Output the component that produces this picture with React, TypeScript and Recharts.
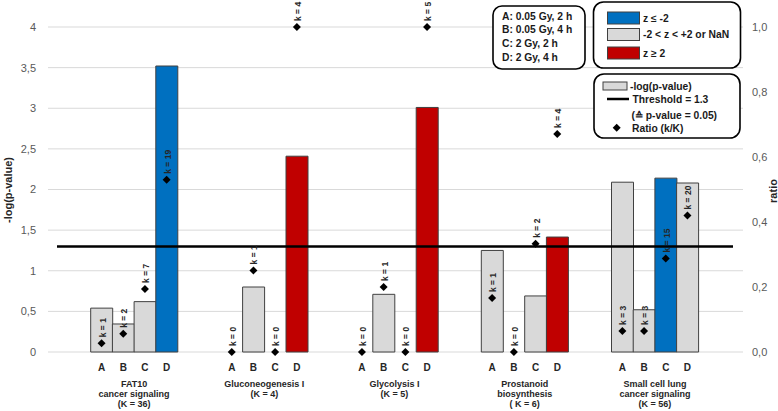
import React from "react"
import {
  ComposedChart,
  Bar,
  Line,
  Cell,
  XAxis,
  YAxis,
  CartesianGrid,
  ReferenceLine,
  LabelList,
} from "recharts"

// pathways (x groups), conditions A-D inside each group
const groupLabels = [
  ["FAT10", "cancer signaling", "(K = 36)"],
  ["Gluconeogenesis  I", "(K = 4)"],
  ["Glycolysis  I", "(K = 5)"],
  ["Prostanoid", "biosynthesis", "( K = 6)"],
  ["Small cell lung", "cancer signaling", "(K = 56)"],
]
const letters = ["A", "B", "C", "D"]

// -log(p-value), left axis
const logP = [
  [0.54, 0.345, 0.62, 3.52],
  [0, 0.8, 0, 2.41],
  [0, 0.71, 0, 3.01],
  [1.25, 0, 0.69, 1.415],
  [2.09, 0.52, 2.14, 2.08],
]
// z-score class: low = z <= -2, mid = -2 < z < 2 or NaN, high = z >= 2
const zClass = [
  ["mid", "mid", "mid", "low"],
  ["mid", "mid", "mid", "high"],
  ["mid", "mid", "mid", "high"],
  ["mid", "mid", "mid", "high"],
  ["mid", "mid", "low", "mid"],
]
// k molecules per condition and ratio k/K, right axis
const kVals = [
  [1, 2, 7, 19],
  [0, 1, 0, 4],
  [0, 1, 0, 5],
  [1, 0, 2, 4],
  [3, 3, 15, 20],
]
const ratios = [
  [0.027, 0.056, 0.194, 0.53],
  [0, 0.251, 0, 1.0],
  [0, 0.2, 0, 1.0],
  [0.166, 0, 0.333, 0.671],
  [0.065, 0.065, 0.288, 0.42],
]

const leftTicks = [0, 0.5, 1, 1.5, 2, 2.5, 3, 3.5, 4]
const rightTicks = [0, 0.2, 0.4, 0.6, 0.8, 1.0]
const THRESHOLD = 1.3

const zColors: Record<string, string> = { low: "#0070C0", mid: "#D9D9D9", high: "#C00000" }

// flat rows: gap, A, B, C, D, gap per pathway
const rows: any[] = []
groupLabels.forEach((_, g) => {
  rows.push({ slot: `${g}-pre`, letter: "", g })
  letters.forEach((l, i) => {
    rows.push({
      slot: `${g}-${l}`,
      letter: l,
      g,
      logp: logP[g][i],
      z: zClass[g][i],
      k: kVals[g][i],
      ratio: ratios[g][i],
    })
  })
  rows.push({ slot: `${g}-post`, letter: "", g })
})

const W = 778
const H = 411
const LEFT_W = 48
const RIGHT_W = 35
const PAD_L = 21
const PAD_R = 23
const BAND = (W - LEFT_W - RIGHT_W - PAD_L - PAD_R) / rows.length
const FONT = "'Liberation Sans', Arial, sans-serif"

const XTick = (props: any) => {
  const { x, y, payload, index } = props
  const row = rows[index] || rows.find((r) => r.slot === payload.value)
  if (!row || !row.letter) return <g />
  return (
    <g>
      <text x={x} y={y + 11} textAnchor="middle" fontSize={10} fontWeight="bold" fill="#262626" fontFamily={FONT}>
        {row.letter}
      </text>
      {row.letter === "B" &&
        groupLabels[row.g].map((line, j) => (
          <text
            key={j}
            x={x + BAND / 2}
            y={y + 27 + j * 10}
            textAnchor="middle"
            fontSize={9}
            fontWeight="bold"
            fill="#262626"
            fontFamily={FONT}
          >
            {line}
          </text>
        ))}
    </g>
  )
}

const Diamond = (props: any) => {
  const { cx, cy, payload, index } = props
  if (payload == null || payload.ratio == null || cy == null) return <g key={index} />
  const r = 4
  return <path key={index} d={`M${cx},${cy - r}L${cx + r},${cy}L${cx},${cy + r}L${cx - r},${cy}Z`} fill="#000" />
}

const KLabel = (props: any) => {
  const { x, y, value } = props
  if (value == null || x == null || y == null) return null
  const ty = y - 6
  return (
    <text
      x={x + 1}
      y={ty}
      transform={`rotate(-90, ${x + 1}, ${ty})`}
      textAnchor="start"
      dominantBaseline="central"
      fontSize={8.5}
      fontWeight="bold"
      fill="#262626"
      fontFamily={FONT}
    >
      {`k = ${value}`}
    </text>
  )
}

function Legends() {
  const txt = { fontSize: 10.3, fontWeight: "bold" as const, fill: "#1a1a1a", fontFamily: FONT, dominantBaseline: "central" as const }
  return (
    <svg width={W} height={H} style={{ position: "absolute", left: 0, top: 0, pointerEvents: "none" }}>
      <text x={8} y={190} transform="rotate(-90, 8, 190)" textAnchor="middle" dominantBaseline="central" fontSize={11} fontWeight="bold" fill="#262626" fontFamily={FONT}>
        -log(p-value)
      </text>
      <text x={773} y={191} transform="rotate(-90, 773, 191)" textAnchor="middle" dominantBaseline="central" fontSize={11} fontWeight="bold" fill="#262626" fontFamily={FONT}>
        ratio
      </text>

      <rect x={493} y={6} width={92} height={63} rx={9} fill="#fff" stroke="#000" strokeWidth={1.6} />
      {["A: 0.05 Gy, 2 h", "B: 0.05 Gy, 4 h", "C: 2 Gy, 2 h", "D: 2 Gy, 4 h"].map((s, i) => (
        <text key={s} x={502} y={16 + i * 13.8} {...txt}>
          {s}
        </text>
      ))}

      <rect x={593.5} y={2} width={147} height={66} rx={10} fill="#fff" stroke="#000" strokeWidth={1.6} />
      {[
        ["low", "z ≤ -2", 12],
        ["mid", "-2 < z < +2 or NaN", 28.5],
        ["high", "z ≥ 2", 47],
      ].map(([c, s, y]) => (
        <g key={c as string}>
          <rect x={607.5} y={y as number} width={32} height={12} fill={zColors[c as string]} stroke="#404040" strokeWidth={1} />
          <text x={643} y={(y as number) + 6} {...txt}>
            {s}
          </text>
        </g>
      ))}

      <rect x={594} y={74} width={146} height={64} rx={10} fill="#fff" stroke="#000" strokeWidth={1.6} />
      <rect x={603} y={82} width={24} height={8} fill="#D9D9D9" stroke="#404040" strokeWidth={1} />
      <text x={630} y={86} {...txt}>-log(p-value)</text>
      <line x1={607} x2={629} y1={99} y2={99} stroke="#000" strokeWidth={2.5} />
      <text x={632.5} y={99} {...txt}>Threshold = 1.3</text>
      <text x={631.5} y={115} {...txt}>(≙ p-value = 0.05)</text>
      <path d="M616.7,123.7L620.7,127.7L616.7,131.7L612.7,127.7Z" fill="#000" />
      <text x={632} y={128} {...txt}>Ratio (k/K)</text>
    </svg>
  )
}

export default function App() {
  return (
    <div style={{ position: "absolute", left: 0, top: 0, width: W, height: H, background: "#fff", fontFamily: FONT }}>
      <ComposedChart
        width={W}
        height={H}
        data={rows}
        margin={{ top: 27, right: 0, left: 0, bottom: 0 }}
        barCategoryGap={0}
        barGap={0}
      >
        <CartesianGrid yAxisId="left" vertical={false} stroke="#D9D9D9" />
        <XAxis
          dataKey="slot"
          type="category"
          interval={0}
          height={59}
          padding={{ left: PAD_L, right: PAD_R }}
          axisLine={false}
          tickLine={false}
          tick={<XTick />}
        />
        <YAxis
          yAxisId="left"
          width={LEFT_W}
          domain={[0, 4]}
          ticks={leftTicks}
          axisLine={false}
          tickLine={false}
          tickMargin={6}
          tick={{ fontSize: 11, fill: "#595959", fontFamily: FONT }}
          tickFormatter={(v) => String(v).replace(".", ",")}
        />
        <YAxis
          yAxisId="right"
          orientation="right"
          width={RIGHT_W}
          domain={[0, 1]}
          ticks={rightTicks}
          axisLine={false}
          tickLine={false}
          tickMargin={3}
          tick={{ fontSize: 11, fill: "#595959", fontFamily: FONT, textAnchor: "start" }}
          tickFormatter={(v) => Number(v).toFixed(1).replace(".", ",")}
        />
        <Bar yAxisId="left" dataKey="logp" stroke="#404040" strokeWidth={1} isAnimationActive={false}>
          {rows.map((r) => (
            <Cell key={r.slot} fill={r.z ? zColors[r.z] : "none"} />
          ))}
        </Bar>
        <ReferenceLine
          yAxisId="left"
          y={THRESHOLD}
          stroke="#000"
          strokeWidth={2.5}
          strokeDasharray="0 9 676 40"
        />
        <Line
          yAxisId="right"
          dataKey="ratio"
          stroke="none"
          dot={Diamond}
          activeDot={false}
          isAnimationActive={false}
        >
          <LabelList dataKey="k" content={KLabel} />
        </Line>
      </ComposedChart>
      <Legends />
    </div>
  )
}
